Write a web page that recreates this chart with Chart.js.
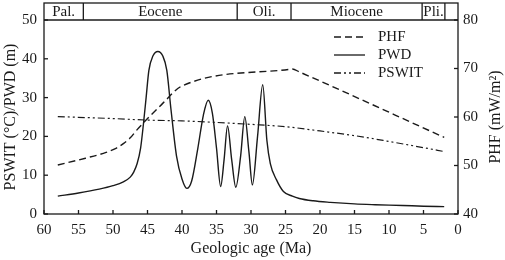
<!DOCTYPE html>
<html lang="en">
<head>
<meta charset="UTF-8">
<title>PHF, PWD and PSWIT against geologic age</title>
<script src="https://cdn.jsdelivr.net/npm/chart.js"></script>
<style>
  html, body { margin: 0; padding: 0; background: #fff; }
</style>
</head>
<body>
<canvas id="ageChart" width="505" height="260"></canvas>
<script>
// all ages in Ma
const phfAge = [58, 54, 51, 49.5, 48.5, 47.5, 46.5, 43, 40, 24.5, 24, 23, 2];
const phfVal = [50.1, 51.5, 52.7, 53.6, 54.5, 55.7, 57.4, 62.5, 66.4, 69.8, 69.9, 69.3, 55.8];

const pwdAge = [58, 55, 52, 50, 48.5, 47.5, 47, 46.5, 46, 45.6, 45.2, 44.8, 44.2, 43.5, 42.8, 42.2, 41.6, 40.8, 40, 39.3,
                38.6, 37.7, 36.9, 36.2, 35.6, 35, 34.4, 33.9, 33.4, 32.8, 32.2, 31.5, 30.9, 30.3, 29.8, 29.05, 28.3,
                27.7, 27.2, 26.3, 25.3, 24, 23, 21, 18.5, 15, 12, 8, 5, 2];
const pwdVal = [4.6, 5.4, 6.4, 7.3, 8.3, 9.5, 10.8, 13, 17, 23, 30, 37, 40.8, 41.9, 40.8, 37, 27, 15, 9, 6.6,
                8.5, 17, 25.5, 29.3, 26, 17, 7.1, 14, 22.7, 14, 6.9, 15, 25.1, 16, 7.5, 20, 33.3,
                19, 13, 8.8, 5.8, 4.6, 4.0, 3.4, 3.0, 2.6, 2.4, 2.2, 2.0, 1.9];

const pswitAge = [58, 50, 45, 40, 35, 30, 25, 20, 15, 10, 5, 2];
const pswitVal = [25.1, 24.6, 24.2, 24.0, 23.6, 23.1, 22.5, 21.4, 20.2, 18.7, 17.1, 16.1];

// epoch band across the top
const epochNames = ['Pal.', 'Eocene', 'Oli.', 'Miocene', 'Pli.', ''];
const epochBounds = [60, 54.3, 32.0, 24.2, 5.2, 1.9, 0];

const ink = '#1a1a1a';
const serif = "'Liberation Serif', 'Times New Roman', serif";
const headerTop = 3;

function pts(xs, ys) {
    return xs.map((x, i) => ({ x: x, y: ys[i] }));
}

Chart.defaults.font.family = serif;
Chart.defaults.font.size = 15;
Chart.defaults.color = ink;

const frame = {
    id: 'frame',
    afterDraw(chart) {
        const { ctx, chartArea: a, scales } = chart;
        const sx = scales.x;
        const line = (x1, y1, x2, y2) => {
            ctx.beginPath();
            ctx.moveTo(x1, y1);
            ctx.lineTo(x2, y2);
            ctx.stroke();
        };
        ctx.save();
        ctx.strokeStyle = ink;
        ctx.lineWidth = 1.3;
        ctx.setLineDash([]);

        // outer box and header band
        ctx.strokeRect(a.left, headerTop, a.right - a.left, a.bottom - headerTop);
        line(a.left, a.top, a.right, a.top);
        epochBounds.slice(1, -1).forEach(b => {
            const px = sx.getPixelForValue(b);
            line(px, headerTop, px, a.top);
        });
        ctx.fillStyle = ink;
        ctx.font = '15px ' + serif;
        ctx.textAlign = 'center';
        ctx.textBaseline = 'middle';
        epochNames.forEach((name, i) => {
            const mid = (sx.getPixelForValue(epochBounds[i]) + sx.getPixelForValue(epochBounds[i + 1])) / 2;
            ctx.fillText(name, mid, (headerTop + a.top) / 2 + 1);
        });

        // inward tick marks
        sx.ticks.forEach(t => {
            const px = sx.getPixelForValue(t.value);
            line(px, a.bottom, px, a.bottom - 4);
        });
        scales.y.ticks.forEach(t => {
            const py = scales.y.getPixelForValue(t.value);
            line(a.left, py, a.left + 4, py);
        });
        scales.y2.ticks.forEach(t => {
            const py = scales.y2.getPixelForValue(t.value);
            line(a.right, py, a.right - 4, py);
        });

        // legend
        ctx.textAlign = 'left';
        ctx.font = '15px ' + serif;
        chart.data.datasets.forEach((ds, i) => {
            const ly = 37 + i * 18;
            ctx.setLineDash(ds.borderDash || []);
            line(334, ly, 365, ly);
            ctx.setLineDash([]);
            ctx.fillText(ds.label, 378, ly);
        });

        // right axis title, reading upwards like the left one
        ctx.save();
        ctx.font = '16px ' + serif;
        ctx.translate(496, (a.top + a.bottom) / 2);
        ctx.rotate(-Math.PI / 2);
        ctx.textAlign = 'center';
        ctx.fillText('PHF (mW/m\u00B2)', 0, 0);
        ctx.restore();

        ctx.restore();
    }
};

new Chart(document.getElementById('ageChart'), {
    type: 'line',
    data: {
        datasets: [
            {
                label: 'PHF',
                data: pts(phfAge, phfVal),
                yAxisID: 'y2',
                borderColor: ink,
                borderWidth: 1.4,
                borderDash: [7, 4],
                cubicInterpolationMode: 'monotone'
            },
            {
                label: 'PWD',
                data: pts(pwdAge, pwdVal),
                yAxisID: 'y',
                borderColor: ink,
                borderWidth: 1.4,
                cubicInterpolationMode: 'monotone'
            },
            {
                label: 'PSWIT',
                data: pts(pswitAge, pswitVal),
                yAxisID: 'y',
                borderColor: ink,
                borderWidth: 1.2,
                borderDash: [7, 3, 2, 3, 2, 3],
                cubicInterpolationMode: 'monotone'
            }
        ]
    },
    options: {
        responsive: false,
        animation: false,
        layout: { padding: { top: 20 } },
        elements: { point: { radius: 0 } },
        plugins: { legend: { display: false }, tooltip: { enabled: false } },
        scales: {
            x: {
                type: 'linear',
                reverse: true,
                min: 0,
                max: 60,
                grid: { display: false, drawTicks: false },
                border: { display: false },
                ticks: { stepSize: 5, padding: 7, maxRotation: 0 },
                title: { display: true, text: 'Geologic age (Ma)', font: { size: 16 }, padding: { top: 0, bottom: 2 } },
                afterFit: s => { s.height = 46; }
            },
            y: {
                position: 'left',
                min: 0,
                max: 50,
                grid: { display: false, drawTicks: false },
                border: { display: false },
                ticks: { stepSize: 10, padding: 7 },
                title: { display: true, text: 'PSWIT (\u00B0C)/PWD (m)', font: { size: 16 }, padding: { top: 1, bottom: 0 } },
                afterFit: s => { s.width = 44; }
            },
            y2: {
                position: 'right',
                min: 40,
                max: 80,
                grid: { display: false, drawTicks: false },
                border: { display: false },
                ticks: { stepSize: 10, padding: 5 },
                afterFit: s => { s.width = 47; }
            }
        }
    },
    plugins: [frame]
});
</script>
</body>
</html>
